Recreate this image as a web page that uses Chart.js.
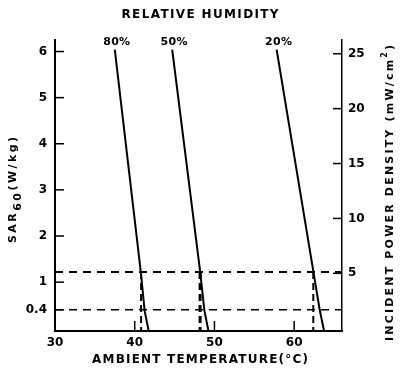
<!DOCTYPE html>
<html><head><meta charset="utf-8">
<script src="https://cdn.jsdelivr.net/npm/chart.js@4/dist/chart.umd.min.js"></script>
<style>html,body{margin:0;padding:0;background:#fff}</style>
</head><body>
<canvas id="c" width="400" height="375"></canvas>
<script>
// ---- data ----
const humidityLabels = ['80%', '50%', '20%'];
const temp80 = [37.5, 40.75, 41.25, 41.75];
const sar80  = [6.04, 1.24, 0.37, -0.06];
const temp50 = [44.7, 48.2, 48.75, 49.25];
const sar50  = [6.04, 1.24, 0.37, -0.06];
const temp20 = [57.8, 62.4, 63.2, 63.75];
const sar20  = [6.04, 1.24, 0.40, -0.06];
const sarLevels = [1.22, 0.4];          // horizontal dashed reference levels (SAR)
const crossTemps = [40.8, 48.2, 62.4];  // vertical dashed drops to the temperature axis
const sarTicks = [0.4, 1, 2, 3, 4, 5, 6];
const pdTicks = [5, 10, 15, 20, 25];
const tempTicks = [30, 40, 50, 60];
const tempRange = [30, 66];
const sarRange = [-0.06, 6.25];
const pdPerSar = 4.2;

const FONT = 'DejaVu Sans';
const curves = [[temp80, sar80], [temp50, sar50], [temp20, sar20]];
const datasets = [];
curves.forEach(([t, s], i) => {
  datasets.push({
    label: humidityLabels[i],
    data: t.map((v, k) => ({x: v, y: s[k]})),
    borderColor: '#000', borderWidth: 2, pointRadius: 0, tension: 0, fill: false
  });
});
sarLevels.forEach((lv, i) => {
  datasets.push({
    data: [{x: tempRange[0], y: lv}, {x: tempRange[1], y: lv}],
    borderColor: '#000', borderWidth: i === 0 ? 2 : 1.5, borderDash: [8, 6],
    pointRadius: 0, fill: false
  });
});
crossTemps.forEach((t, i) => {
  datasets.push({
    data: [{x: t, y: sarLevels[0]}, {x: t, y: sarRange[0]}],
    borderColor: '#000', borderWidth: i === 1 ? 3 : 2, borderDash: [7, 4],
    pointRadius: 0, fill: false
  });
});

function drawPieces(ctx, pieces, cx, cy, target, rot) {
  ctx.save();
  ctx.translate(cx, cy);
  if (rot) ctx.rotate(rot);
  let n = 0, w = 0;
  pieces.forEach(p => { ctx.font = p.font; ctx.letterSpacing = '0px'; p.w = ctx.measureText(p.t).width; w += p.w; n += p.t.length; });
  const ls = Math.max(0, (target - w) / (n - 1));
  let x = -(w + ls * (n - 1)) / 2;
  ctx.textAlign = 'left'; ctx.textBaseline = 'middle'; ctx.fillStyle = '#000';
  pieces.forEach(p => {
    ctx.font = p.font; ctx.letterSpacing = ls.toFixed(2) + 'px';
    ctx.fillText(p.t, x, p.dy || 0);
    x += p.w + ls * p.t.length;
  });
  ctx.restore();
}

const deco = {
  id: 'deco',
  afterDraw(chart) {
    const {ctx, chartArea: a, scales: {x, y, y2}} = chart;
    ctx.save();
    ctx.strokeStyle = '#000'; ctx.lineWidth = 1.5;
    const line = (x1, y1, x2, y2_) => { ctx.beginPath(); ctx.moveTo(x1, y1); ctx.lineTo(x2, y2_); ctx.stroke(); };
    sarTicks.forEach(v => { const py = y.getPixelForValue(v); line(a.left, py, a.left + 9, py); });
    pdTicks.forEach(v => { const py = y2.getPixelForValue(v); line(a.right - 9, py, a.right, py); });
    tempTicks.slice(1).forEach(v => { const px = x.getPixelForValue(v); line(px, a.bottom, px, a.bottom - 10); });
    // humidity labels above each curve
    ctx.fillStyle = '#000'; ctx.textAlign = 'center'; ctx.textBaseline = 'middle';
    ctx.font = 'bold 11px "' + FONT + '"';
    ctx.letterSpacing = '0.3px';
    curves.forEach(([t], i) => { ctx.fillText(humidityLabels[i], x.getPixelForValue(t[0]) + 2, 42); });
    ctx.restore();
    const b12 = 'bold 12px "' + FONT + '"';
    const b11 = 'bold 11px "' + FONT + '"';
    const b8 = 'bold 8px "' + FONT + '"';
    drawPieces(ctx, [{t: 'RELATIVE HUMIDITY', font: b12}], 200, 15, 157, 0);
    drawPieces(ctx, [{t: 'AMBIENT TEMPERATURE(°C)', font: b12}], 200, 360, 216, 0);
    drawPieces(ctx, [{t: 'SAR', font: b11}, {t: '60', font: b11, dy: 5}, {t: '(W/kg)', font: b11}], 13, 190, 106, -Math.PI / 2);
    drawPieces(ctx, [{t: 'INCIDENT POWER DENSITY (mW/cm', font: b11}, {t: '2', font: b8, dy: -5}, {t: ')', font: b11}], 390, 193, 296, -Math.PI / 2);
  }
};

const tickFont = {family: FONT, size: 12, weight: 'bold'};
const noGrid = {display: false, drawTicks: false};
new Chart(document.getElementById('c'), {
  type: 'line',
  data: {datasets},
  options: {
    responsive: false, animation: false, devicePixelRatio: 1,
    layout: {padding: {top: 40, left: 0, right: 0, bottom: 0}},
    plugins: {legend: {display: false}, tooltip: {enabled: false}},
    scales: {
      x: {
        type: 'linear', min: tempRange[0], max: tempRange[1],
        grid: noGrid, border: {display: true, color: '#000', width: 2},
        ticks: {color: '#000', font: tickFont, padding: 5, maxRotation: 0, callback: v => String(v)},
        afterBuildTicks: s => { s.ticks = tempTicks.map(v => ({value: v})); },
        afterFit: s => { s.height = 44; }
      },
      y: {
        type: 'linear', position: 'left', min: sarRange[0], max: sarRange[1],
        grid: noGrid, border: {display: true, color: '#000', width: 2},
        ticks: {color: '#000', font: tickFont, padding: 8, callback: v => String(v)},
        afterBuildTicks: s => { s.ticks = sarTicks.map(v => ({value: v})); },
        afterFit: s => { s.width = 55; }
      },
      y2: {
        type: 'linear', position: 'right', min: sarRange[0] * pdPerSar, max: sarRange[1] * pdPerSar,
        grid: noGrid, border: {display: true, color: '#000', width: 1.5},
        ticks: {color: '#000', font: tickFont, padding: 6, callback: v => String(v)},
        afterBuildTicks: s => { s.ticks = pdTicks.map(v => ({value: v})); },
        afterFit: s => { s.width = 58; }
      }
    }
  },
  plugins: [deco]
});
</script>
</body></html>
